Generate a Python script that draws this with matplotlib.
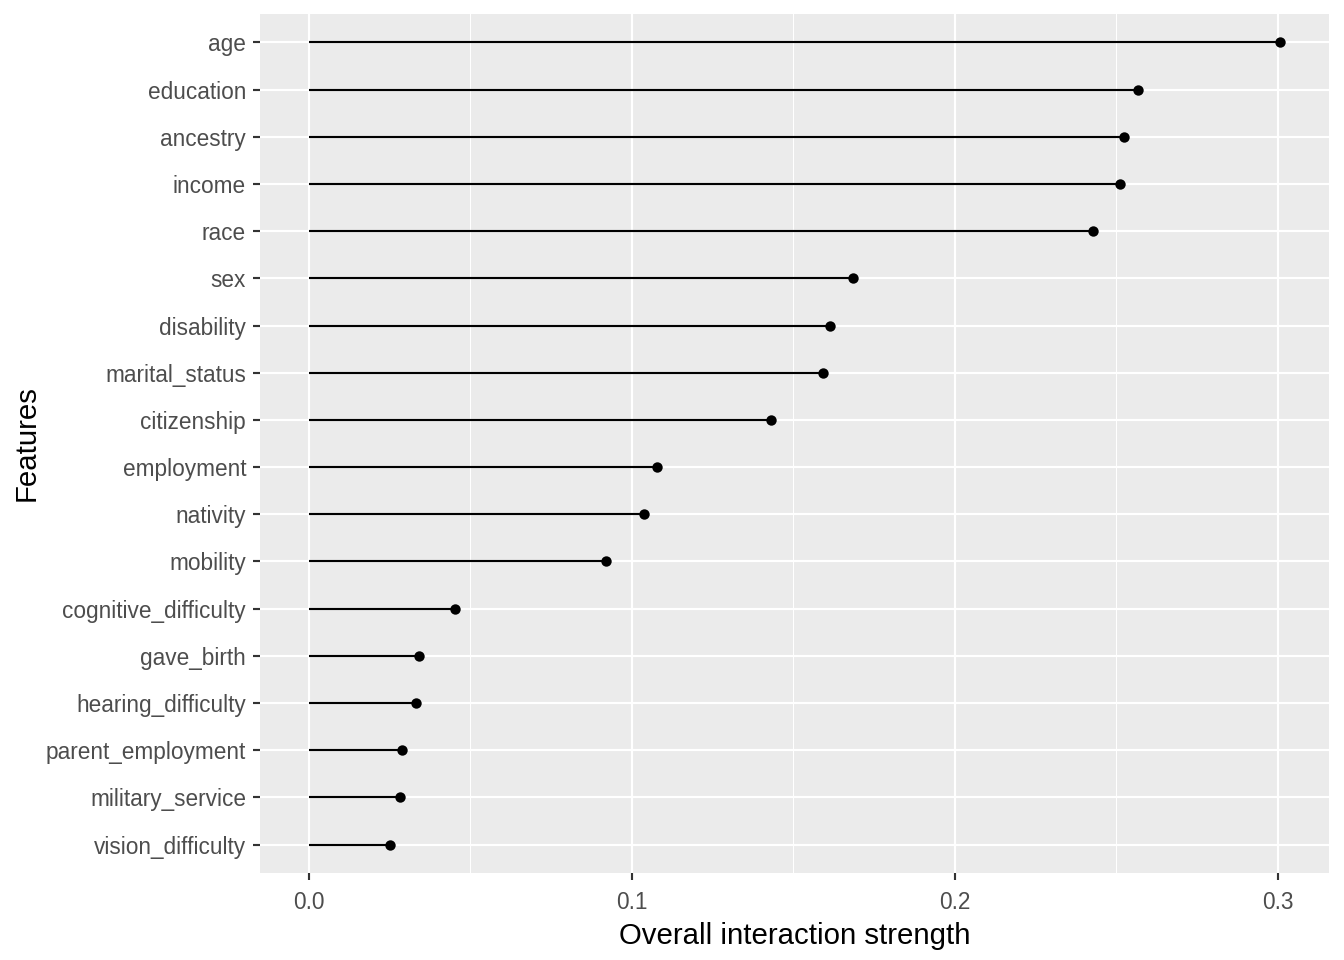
import numpy as np
import matplotlib.pyplot as plt
from matplotlib.ticker import MultipleLocator

# feature names, top to bottom
features = ["age", "education", "ancestry", "income", "race", "sex",
            "disability", "marital_status", "citizenship", "employment",
            "nativity", "mobility", "cognitive_difficulty", "gave_birth",
            "hearing_difficulty", "parent_employment", "military_service",
            "vision_difficulty"]
strength = [0.3009, 0.2567, 0.2526, 0.2511, 0.2430, 0.1687,
            0.1613, 0.1594, 0.1433, 0.1080,
            0.1040, 0.0920, 0.0452, 0.0341,
            0.0334, 0.0288, 0.0282,
            0.0251]

plt.rcParams['font.family'] = ['Liberation Sans', 'DejaVu Sans']

fig = plt.figure(figsize=(7, 5), dpi=192)
ax = fig.add_axes([260/1344, 1-873/960, (1329-260)/1344, (873-14)/960])

n = len(features)
ypos = np.arange(n, 0, -1)

ax.set_facecolor('#EBEBEB')
for s in ax.spines.values():
    s.set_visible(False)

ax.hlines(ypos, 0, strength, color='black', linewidth=0.8, zorder=3)
ax.plot(strength, ypos, 'o', color='black', markersize=3.9,
        markeredgewidth=0, zorder=4)

ax.set_yticks(ypos)
ax.set_yticklabels(features)
ax.set_ylim(0.4, n + 0.6)

xmax = max(strength)
ax.set_xlim(-0.05 * xmax, xmax * 1.05)
ax.xaxis.set_minor_locator(MultipleLocator(0.05))
ax.set_xticks([0.0, 0.1, 0.2, 0.3])
ax.set_xticklabels(["0.0", "0.1", "0.2", "0.3"])

ax.grid(which='major', color='white', linewidth=0.8, zorder=0)
ax.grid(which='minor', axis='x', color='white', linewidth=0.4, zorder=0)
ax.set_axisbelow(True)

ax.tick_params(which='major', length=2.75, width=0.8, color='#333333',
               labelsize=8.5, labelcolor='#4D4D4D', pad=2.5)
ax.tick_params(axis='x', which='major', pad=4)
ax.tick_params(which='minor', length=0)

ax.set_xlabel("Overall interaction strength", fontsize=11, color='black', labelpad=3)
ax.set_ylabel("")
fig.text(27/1344, 1 - 443/960, "Features", rotation=90, fontsize=11,
         color='black', ha='center', va='center')

fig.savefig("out.png", dpi=192)
